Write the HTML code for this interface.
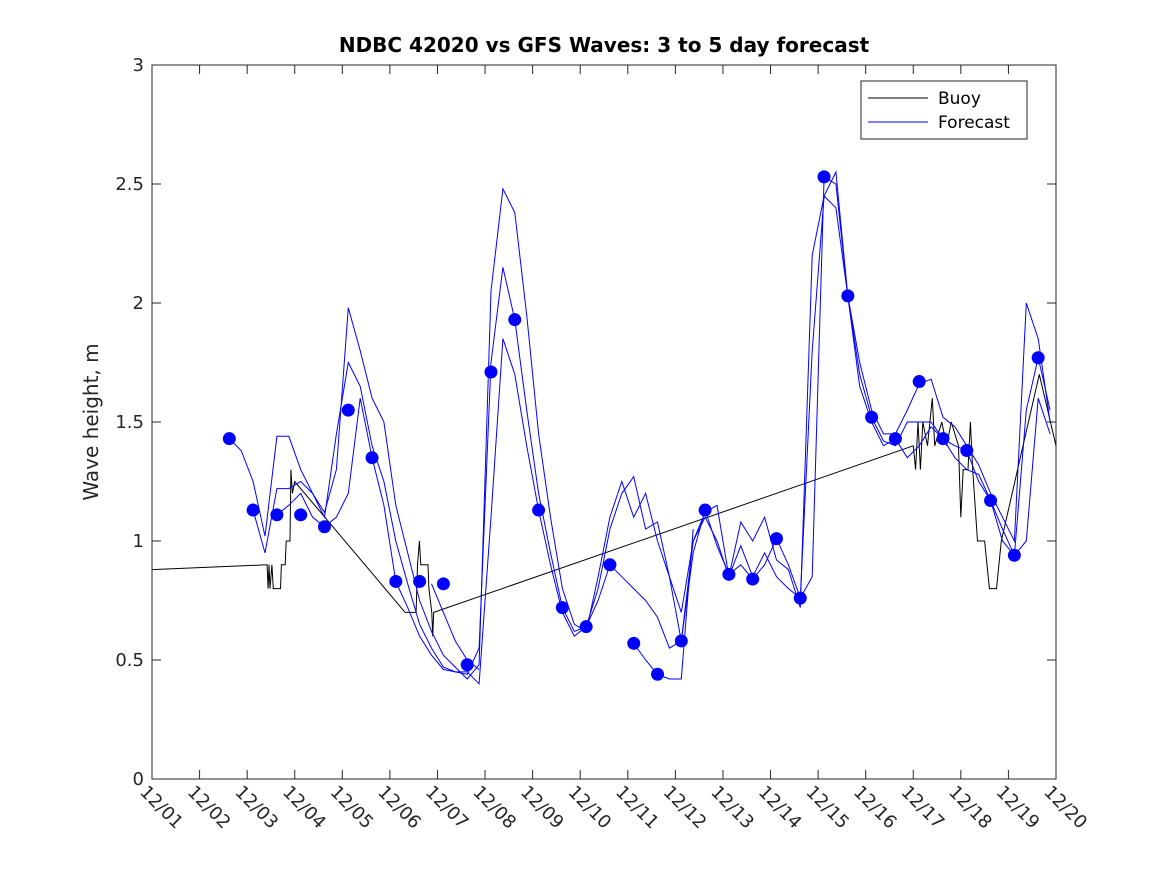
<!DOCTYPE html>
<html><head><meta charset="utf-8"><style>
html,body{margin:0;padding:0;background:#fff;}
svg{display:block;font-family:"DejaVu Sans","Liberation Sans",sans-serif;}
</style></head><body>
<svg id="chart" width="1167" height="875" viewBox="0 0 1167 875">
<rect width="1167" height="875" fill="#fff"/>
<text x="604" y="52" text-anchor="middle" font-size="20" font-weight="bold" fill="#000">NDBC 42020 vs GFS Waves: 3 to 5 day forecast</text>
<g id="plot"></g>
<text transform="translate(98,422) rotate(-90)" text-anchor="middle" font-size="20" fill="#262626">Wave height, m</text>
<g>
<rect x="861" y="81" width="166" height="58" fill="#fff" stroke="#262626" stroke-width="1"/>
<line x1="868" y1="98" x2="928" y2="98" stroke="#000" stroke-width="1"/>
<text x="938" y="104" font-size="17" fill="#000">Buoy</text>
<line x1="868" y1="122" x2="928" y2="122" stroke="#0000ff" stroke-width="1"/>
<text x="938" y="128" font-size="17" fill="#000">Forecast</text>
</g>
</svg>
<script>
const xTickLabels=["12/01","12/02","12/03","12/04","12/05","12/06","12/07","12/08","12/09","12/10","12/11","12/12","12/13","12/14","12/15","12/16","12/17","12/18","12/19","12/20"];
const yTicks=[0,0.5,1,1.5,2,2.5,3];
const yTickLabels=["0","0.5","1","1.5","2","2.5","3"];
const fcStart=1.625, fcStep=0.25;
const fcA=[1.43,1.38,1.25,1.02,1.44,1.44,1.30,1.20,1.12,1.30,1.98,1.80,1.60,1.50,1.15,0.95,0.75,0.62,0.52,0.47,0.42,0.48,2.05,2.48,2.38,1.95,1.45,1.10,0.80,0.65,0.62,0.85,1.10,1.25,1.10,1.20,1.00,0.85,0.70,1.00,1.12,1.15,0.85,1.08,1.00,1.10,0.92,0.88,0.72,2.20,2.45,2.55,2.03,1.75,1.55,1.45,1.45,1.55,1.66,1.68,1.52,1.48,1.40,1.32,1.20,1.10,1.00,2.00,1.85,1.50];
const fcB=[null,null,1.13,0.95,1.22,1.22,1.25,1.20,1.10,1.45,1.75,1.65,1.40,1.25,1.00,0.82,0.65,0.55,0.47,0.45,0.44,0.55,1.75,2.15,1.93,1.55,1.20,0.95,0.72,0.62,0.64,0.80,1.05,1.20,1.27,1.05,1.08,0.85,0.58,1.00,1.10,1.00,0.85,0.98,0.85,0.95,0.85,0.80,0.76,1.80,2.45,2.40,2.03,1.70,1.52,1.42,1.40,1.50,1.50,1.50,1.43,1.40,1.38,1.25,1.17,1.05,0.94,1.55,1.77,1.55];
const fcC=[null,null,null,null,1.11,1.15,1.20,1.10,1.06,1.10,1.20,1.60,1.35,1.15,0.83,0.72,0.60,0.52,0.46,0.45,0.45,0.40,1.10,1.85,1.70,1.40,1.13,0.90,0.70,0.60,0.64,0.75,0.90,0.85,0.80,0.75,0.68,0.55,0.58,0.95,1.13,0.98,0.86,0.90,0.84,0.90,1.01,0.90,0.76,0.85,2.53,2.50,2.03,1.65,1.50,1.40,1.43,1.35,1.40,1.48,1.43,1.35,1.30,1.28,1.17,1.00,0.94,1.00,1.60,1.45];
const fcD=[null,null,null,null,null,null,null,null,null,null,null,null,null,null,null,null,null,0.82,0.70,0.58,0.50,0.46,null,null,null,null,null,null,null,null,null,null,null,null,0.57,0.50,0.44,0.42,0.42,1.05,null,null,null,null,null,null,null,null,null,null,null,null,null,null,null,null,null,null,null,null,null,null,null,null,null,null,null,null,null,null];
const dotStart=1.625, dotStep=0.5;
const dotValues=[1.43,1.13,1.11,1.11,1.06,1.55,1.35,0.83,0.83,0.82,0.48,1.71,1.93,1.13,0.72,0.64,0.90,0.57,0.44,0.58,1.13,0.86,0.84,1.01,0.76,2.53,2.03,1.52,1.43,1.67,1.43,1.38,1.17,0.94,1.77];
const buoyDays=[0,2.42,2.44,2.46,2.48,2.52,2.55,2.7,2.72,2.8,2.82,2.9,2.92,2.95,3.0,5.32,5.55,5.58,5.62,5.65,5.8,5.82,5.88,5.9,5.92,16.0,16.05,16.1,16.15,16.2,16.3,16.4,16.45,16.6,16.7,16.8,16.95,17.0,17.05,17.15,17.2,17.25,17.35,17.5,17.55,17.6,17.75,17.8,17.85,18.65,19.0];
const buoyValues=[0.88,0.90,0.8,0.9,0.8,0.9,0.8,0.8,0.9,0.9,1.0,1.0,1.3,1.2,1.25,0.7,0.7,0.9,1.0,0.9,0.9,0.8,0.7,0.6,0.7,1.40,1.3,1.5,1.3,1.5,1.4,1.6,1.4,1.5,1.4,1.5,1.4,1.1,1.3,1.3,1.5,1.3,1.0,1.0,0.9,0.8,0.8,0.9,1.0,1.7,1.4];

const L=152,R=1056,T=65,B=779;
const xs=d=>L+(R-L)*d/19;
const ys=v=>B-(B-T)*v/3;
const NS="http://www.w3.org/2000/svg";
const g=document.getElementById('plot');
function mk(tag,attrs,parent){const e=document.createElementNS(NS,tag);for(const k in attrs)e.setAttribute(k,attrs[k]);(parent||g).appendChild(e);return e;}

const box=mk('rect',{x:L,y:T,width:R-L,height:B-T,fill:'none',stroke:'#262626','stroke-width':1});


xTickLabels.forEach((lab,i)=>{
  const x=xs(i);
  const t1=mk('line',{x1:x,y1:B,x2:x,y2:B-9,stroke:'#262626'});
  
  
  const t2=mk('line',{x1:x,y1:T,x2:x,y2:T+9,stroke:'#262626'});
  
  
  const tx=mk('text',{transform:`translate(${x-13},${B+14}) rotate(45)`,'font-size':18,fill:'#262626'});
  tx.textContent=lab;
  
  
});
yTicks.forEach((v,i)=>{
  const y=ys(v);
  const t1=mk('line',{x1:L,y1:y,x2:L+9,y2:y,stroke:'#262626'});
  
  
  const t2=mk('line',{x1:R,y1:y,x2:R-9,y2:y,stroke:'#262626'});
  
  
  const tx=mk('text',{x:L-8,y:y+6,'text-anchor':'end','font-size':18,fill:'#262626'});
  tx.textContent=yTickLabels[i];
  
  
});

let bp=buoyDays.map((d,i)=>xs(d).toFixed(1)+','+ys(buoyValues[i]).toFixed(1)).join(' ');
const bl=mk('polyline',{points:bp,fill:'none',stroke:'#000','stroke-width':1});



[fcA,fcB,fcC,fcD].forEach((arr,si)=>{
  let seg=[];
  const flush=()=>{ if(seg.length>1){
    const p=mk('polyline',{points:seg.join(' '),fill:'none',stroke:'#0000ff','stroke-width':1});
    
    
  } seg=[]; };
  arr.forEach((v,i)=>{
    if(v===null){flush();return;}
    seg.push(xs(fcStart+fcStep*i).toFixed(1)+','+ys(v).toFixed(1));
  });
  flush();
});

dotValues.forEach((v,i)=>{
  const c=mk('circle',{cx:xs(dotStart+dotStep*i),cy:ys(v),r:6.5,fill:'#0000ff'});
  
  
});
</script>
</body></html>
